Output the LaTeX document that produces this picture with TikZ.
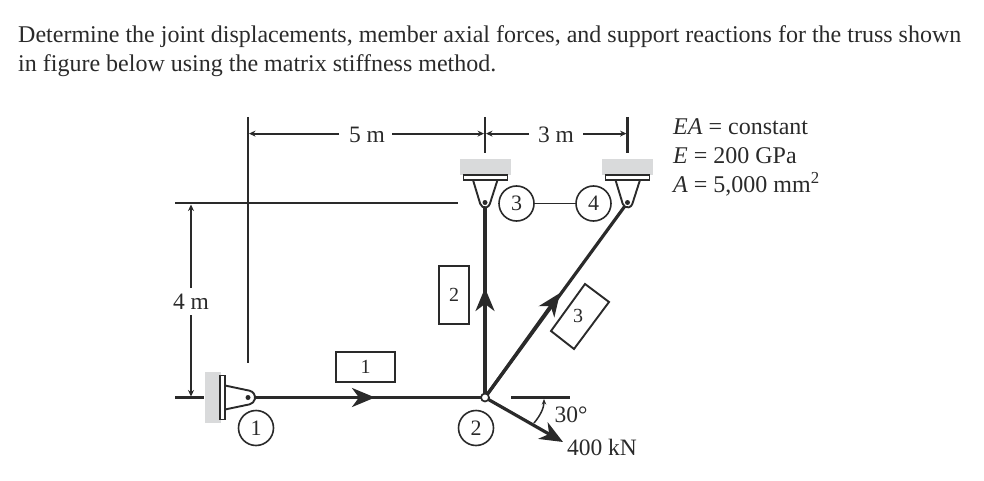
\documentclass[tikz,border=0pt]{standalone}
\usepackage{fontspec}
\setmainfont{Liberation Serif}
\usetikzlibrary{arrows.meta}
\definecolor{ink}{HTML}{2A2A2A}
\definecolor{sup}{HTML}{D9DADB}
\tikzset{
  every node/.style={text=ink},
  para/.style={anchor=base west,inner sep=0pt,font=\fontsize{24}{28}\selectfont},
  dimtxt/.style={inner sep=0pt,font=\fontsize{23.5}{28}\selectfont},
  proptxt/.style={anchor=base west,inner sep=0pt,font=\fontsize{24}{28}\selectfont},
  num/.style={draw=ink,line width=1.6pt,circle,minimum size=35pt,inner sep=0pt,font=\fontsize{22}{26}\selectfont},
  memberbox/.style={draw=ink,line width=2.2pt,minimum width=#1,inner sep=0pt,font=\fontsize{20}{24}\selectfont},
  memberbox/.default=59pt,
  extline/.style={draw=ink,line width=2.3pt},
  thin line/.style={draw=ink,line width=1.9pt},
  dimline/.style={draw=ink,line width=2.1pt,-{Stealth[length=6.5pt,width=6pt]}},
  member/.style={draw=ink,line width=3.2pt},
  bigtip/.style={draw=ink,line width=3.2pt,-{Stealth[length=23pt,width=19pt,inset=7pt]}},
  groundblock/.style={fill=sup,draw=none,inner sep=0pt},
  plate/.style={fill=white,draw=ink,line width=1.9pt,inner sep=0pt},
  lug/.style={draw=ink,line width=1.9pt,fill=white,line join=round},
  pin/.style={circle,fill=ink,draw=none,minimum size=5pt,inner sep=0pt},
}
\begin{document}
\begin{tikzpicture}[x=1pt,y=-1pt]
\useasboundingbox (0,0) rectangle (984,481);
\node[para] (l1) at (18,42.5) {Determine the joint displacements, member axial forces, and support reactions for the truss shown};
\node[para] (l2) at (18,71.5) {in figure below using the matrix stiffness method.};

% reference coordinates
\coordinate (pinA) at (248,397.5);
\coordinate (pinC) at (485,202.5);
\coordinate (pinD) at (627.5,202.5);
\coordinate (J) at (485,397.5);

% extension lines
\coordinate (e5t) at (248,117); \coordinate (e5b) at (248,363);
\draw[extline] (e5t) -- (e5b);
\coordinate (e3at) at (485,117); \coordinate (e3ab) at (485,153);
\draw[extline] (e3at) -- (e3ab);
\coordinate (e3bt) at (627.5,117); \coordinate (e3bb) at (627.5,153);
\draw[extline] (e3bt) -- (e3bb);
\coordinate (h1a) at (175,203.2); \coordinate (h1b) at (458,203.2);
\draw[thin line] (h1a) -- (h1b);
\coordinate (h2a) at (175,397.5); \coordinate (h2b) at (204,397.5);
\draw[extline] (h2a) -- (h2b);

% dimensions
\node[dimtxt] (d5) at (367,135) {5 m};
\node[dimtxt] (d3) at (556,135) {3 m};
\node[dimtxt] (d4) at (191,302) {4 m};
\coordinate (d5a) at (339,133.6); \coordinate (d5l) at (249,133.6);
\coordinate (d5b) at (392,133.6); \coordinate (d5r) at (484,133.6);
\coordinate (d3a) at (529,133.6); \coordinate (d3l) at (486,133.6);
\coordinate (d3b) at (583,133.6); \coordinate (d3r) at (626.5,133.6);
\coordinate (d4a) at (191,288); \coordinate (d4t) at (191,204.5);
\coordinate (d4c) at (191,315); \coordinate (d4b) at (191,396.5);
\draw[dimline] (d5a) -- (d5l);
\draw[dimline] (d5b) -- (d5r);
\draw[dimline] (d3a) -- (d3l);
\draw[dimline] (d3b) -- (d3r);
\draw[dimline] (d4a) -- (d4t);
\draw[dimline] (d4c) -- (d4b);

% supports
\node[groundblock,minimum width=51pt,minimum height=16pt] (gC) at (485.5,167) {};
\node[groundblock,minimum width=51pt,minimum height=16pt] (gD) at (627.5,167) {};
\node[groundblock,minimum width=16pt,minimum height=51pt] (gA) at (213,397.5) {};

% members
\draw[member] (pinA) -- (J);
\draw[member] (pinC) -- (J);
\draw[member] (pinD) -- (J);
\coordinate (t1) at (375,397.5);
\coordinate (t2) at (485,288);
\coordinate (t3) at (560,293);
\draw[bigtip] (pinA) -- (t1);
\draw[bigtip] (J) -- (t2);
\draw[bigtip] (J) -- (t3);

% lugs
\draw[lug] (473,180) -- (480.2,203.8) arc[start angle=165,end angle=15,radius=5] -- (497.5,180) -- cycle;
\draw[lug] (615.5,180) -- (622.7,203.8) arc[start angle=165,end angle=15,radius=5] -- (640,180) -- cycle;
\draw[lug] (225,385.5) -- (249.6,390.7) arc[start angle=-77,end angle=77,radius=7] -- (225,409.5) -- cycle;
\node[plate,minimum width=44pt,minimum height=5pt] (pC) at (485.5,177.5) {};
\node[plate,minimum width=44pt,minimum height=5pt] (pD) at (627.5,177.5) {};
\node[plate,minimum width=5pt,minimum height=44pt] (pA) at (222.3,397.5) {};
\node[pin] (pa) at (pinA) {};
\node[pin] (pc) at (pinC) {};
\node[pin] (pd) at (pinD) {};

% joint numbers
\node[num] (n1) at (256,428) {1};
\node[num] (n2) at (476,428) {2};
\node[num] (n3) at (516.5,203.5) {3};
\node[num] (n4) at (593.5,203.5) {4};
\draw[thin line] (n3) -- (n4);

% load
\coordinate (L) at (563,442);
\draw[bigtip] (J) -- (L);

% joint
\node[circle,draw=ink,fill=white,line width=1.7pt,minimum size=8pt,inner sep=0pt] (jt) at (J) {};

% member labels
\node[memberbox,minimum height=30pt] (b1) at (365.5,367) {1};
\node[memberbox=30pt,minimum height=58pt] (b2) at (454,295) {2};
\draw[draw=ink,line width=1.9pt] (585,284) -- (609,302) -- (574,349) -- (551,331) -- cycle;
\node[inner sep=0pt,font=\fontsize{20}{24}\selectfont] (b3t) at (578,316) {3};

\coordinate (r1) at (511,397.5); \coordinate (r2) at (570,397.5);
\draw[extline] (r1) -- (r2);
\coordinate (a1) at (534,423); \coordinate (a2) at (544,399);
\draw[draw=ink,line width=1.5pt,-{Stealth[length=5.5pt,width=4.5pt]}] (a1) .. controls (540,416) and (544,408) .. (a2);
\node[dimtxt] (ang) at (571,415) {30°};
\node[dimtxt] (load) at (602,447) {400 kN};

% properties
\node[proptxt] (p1) at (673,135) {\textit{EA} = constant};
\node[proptxt] (p2) at (673,164) {\textit{E} = 200 GPa};
\node[proptxt] (p3) at (673,193) {\textit{A} = 5,000 mm\textsuperscript{2}};
\end{tikzpicture}
\end{document}
